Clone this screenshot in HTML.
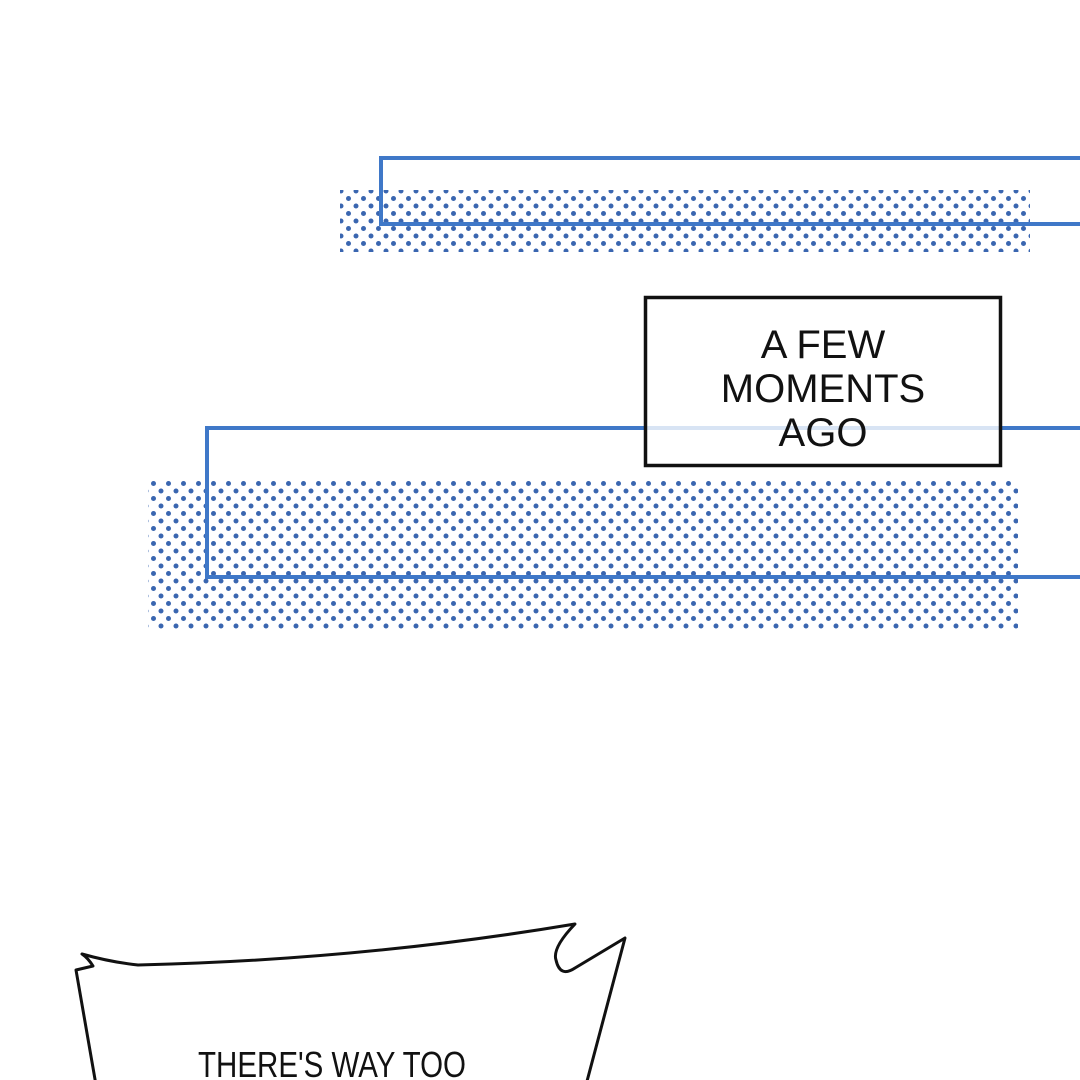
<!DOCTYPE html>
<html><head><meta charset="utf-8"><style>
html,body{margin:0;padding:0;background:#fff;}
body{width:1080px;height:1080px;position:relative;overflow:hidden;}
</style></head><body>
<svg width="1080" height="1080" viewBox="0 0 1080 1080" style="position:absolute;left:0;top:0">
<defs>
<pattern id="dots" x="0" y="0" width="15" height="15" patternUnits="userSpaceOnUse">
<circle cx="3.5" cy="3.5" r="2.5" fill="#3a66b0"/>
<circle cx="11" cy="11" r="2.5" fill="#3a66b0"/>
</pattern>
</defs>
<rect x="340" y="190" width="690" height="62" fill="url(#dots)"/>
<rect x="381" y="158" width="720" height="66" fill="none" stroke="#3f78c8" stroke-width="4"/>
<rect x="148" y="480" width="870" height="150" fill="url(#dots)"/>
<rect x="207" y="428" width="900" height="149" fill="none" stroke="#3f78c8" stroke-width="4"/>
<rect x="645.5" y="297.5" width="355" height="168" fill="rgba(255,255,255,0.8)" stroke="#111" stroke-width="3.5"/>
<g font-family="Liberation Sans, sans-serif" font-size="40" fill="#111" text-anchor="middle">
<text x="823" y="358">A FEW</text>
<text x="823" y="402">MOMENTS</text>
<text x="823" y="446">AGO</text>
</g>
<path d="M96 1085 L76 970 L93 966 Q88 958 82 954 Q110 962 138 965 Q360 960 575 924 Q552 948 556 960 Q560 978 575 968 L625 938 L586 1085" fill="#fff" stroke="#111" stroke-width="3" stroke-linejoin="round"/>
<text x="332" y="1077" font-family="Liberation Sans Narrow, Liberation Sans, sans-serif" font-size="36" fill="#111" text-anchor="middle" transform="translate(332 0) scale(0.82 1) translate(-332 0)">THERE'S WAY TOO</text>
</svg>
</body></html>
